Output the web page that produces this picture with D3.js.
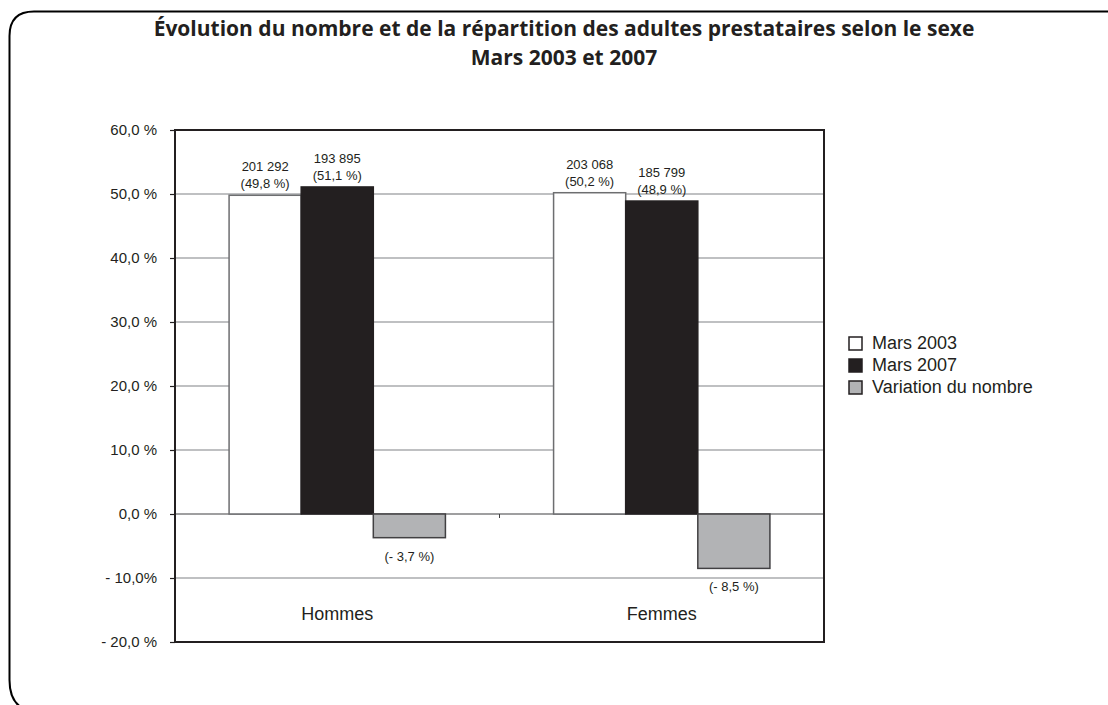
<!DOCTYPE html>
<html>
<head>
<meta charset="utf-8">
<script src="https://cdn.jsdelivr.net/npm/d3@7/dist/d3.min.js"></script>
<style>
  body { margin: 0; background: #fff; }
  svg { display: block; }
  text { fill: #231f20; }
</style>
</head>
<body>
<svg id="chart" width="1108" height="705"></svg>
<script>
// data
var categories = ["Hommes", "Femmes"];
var seriesNames = ["Mars 2003", "Mars 2007", "Variation du nombre"];
var mars2003 = [49.8, 50.2];
var mars2007 = [51.1, 48.9];
var variation = [-3.7, -8.5];
var counts2003 = ["201 292", "203 068"];
var counts2007 = ["193 895", "185 799"];
var yTicks = [60, 50, 40, 30, 20, 10, 0, -10, -20];
var yTickLabels = ["60,0 %", "50,0 %", "40,0 %", "30,0 %", "20,0 %", "10,0 %", "0,0 %", "- 10,0%", "- 20,0 %"];
var titleLines = ["Évolution du nombre et de la répartition des adultes prestataires selon le sexe", "Mars 2003 et 2007"];

var svg = d3.select("#chart"),
    margin = {top: 130, right: 284, bottom: 63, left: 175},
    width = +svg.attr("width") - margin.left - margin.right,
    height = +svg.attr("height") - margin.top - margin.bottom;

// frame with rounded left corners
svg.append("path")
    .attr("d", "M1120,11.5 L34,11.5 Q9.5,11.5 9.5,36 L9.5,680 Q9.5,712 40,712 L1120,712")
    .attr("fill", "none")
    .attr("stroke", "#000")
    .attr("stroke-width", 2);

// title
svg.selectAll(".title")
  .data(titleLines)
  .enter().append("text")
    .attr("class", "title")
    .attr("x", 564)
    .attr("y", function(d, i) { return 36 + i * 29; })
    .attr("text-anchor", "middle")
    .style("font", "bold 21px 'Open Sans', sans-serif")
    .text(function(d) { return d; });

var g = svg.append("g").attr("transform", "translate(" + margin.left + "," + margin.top + ")");

var rows = categories.map(function(c, i) {
  return {cat: c, values: [
    {key: seriesNames[0], v: mars2003[i], count: counts2003[i]},
    {key: seriesNames[1], v: mars2007[i], count: counts2007[i]},
    {key: seriesNames[2], v: variation[i], count: null}
  ]};
});

var x0 = d3.scaleBand().domain(categories).range([0, width]).padding(0);
var x1 = d3.scaleBand().domain(seriesNames).range([0, x0.bandwidth()]).paddingInner(0).paddingOuter(0.75);
var y = d3.scaleLinear().domain([-20, 60]).range([height, 0]);
var fill = d3.scaleOrdinal().domain(seriesNames).range(["#ffffff", "#231f20", "#b2b3b5"]);
var stroke = d3.scaleOrdinal().domain(seriesNames).range(["#6d6e70", "#231f20", "#414042"]);

function pct(v) {
  var s = d3.format(".1f")(Math.abs(v)).replace(".", ",");
  return v < 0 ? "(- " + s + " %)" : "(" + s + " %)";
}

// gridlines
g.selectAll(".grid")
  .data(yTicks.filter(function(d) { return d > -20 && d < 60; }))
  .enter().append("line")
    .attr("class", "grid")
    .attr("x1", 0).attr("x2", width)
    .attr("y1", function(d) { return y(d); })
    .attr("y2", function(d) { return y(d); })
    .attr("stroke", function(d) { return d === 0 ? "#414042" : "#808285"; })
    .attr("stroke-width", 1.2);

// small tick between the groups on the zero line
g.append("line")
    .attr("x1", x0(categories[1])).attr("x2", x0(categories[1]))
    .attr("y1", y(0)).attr("y2", y(0) + 4)
    .attr("stroke", "#414042");

// bars
var group = g.selectAll(".group")
  .data(rows)
  .enter().append("g")
    .attr("class", "group")
    .attr("transform", function(d) { return "translate(" + x0(d.cat) + ",0)"; });

group.selectAll("rect")
  .data(function(d) { return d.values; })
  .enter().append("rect")
    .attr("x", function(d) { return x1(d.key); })
    .attr("y", function(d) { return y(Math.max(0, d.v)); })
    .attr("width", x1.bandwidth())
    .attr("height", function(d) { return Math.abs(y(d.v) - y(0)); })
    .attr("fill", function(d) { return fill(d.key); })
    .attr("stroke", function(d) { return stroke(d.key); })
    .attr("stroke-width", 1.5);

// value labels
group.selectAll(".lab")
  .data(function(d) { return d.values; })
  .enter().append("text")
    .attr("class", "lab")
    .attr("text-anchor", "middle")
    .attr("x", function(d) { return x1(d.key) + x1.bandwidth() / 2; })
    .attr("y", function(d) { return d.v >= 0 ? y(d.v) - 7 : y(d.v) + 23; })
    .style("font", "13px 'Liberation Sans', Arial, sans-serif")
    .text(function(d) { return pct(d.v); });

group.selectAll(".cnt")
  .data(function(d) { return d.values.filter(function(e) { return e.count; }); })
  .enter().append("text")
    .attr("class", "cnt")
    .attr("text-anchor", "middle")
    .attr("x", function(d) { return x1(d.key) + x1.bandwidth() / 2; })
    .attr("y", function(d) { return y(d.v) - 24; })
    .style("font", "13px 'Liberation Sans', Arial, sans-serif")
    .text(function(d) { return d.count; });

// category labels
g.selectAll(".cat")
  .data(categories)
  .enter().append("text")
    .attr("class", "cat")
    .attr("text-anchor", "middle")
    .attr("x", function(d) { return x0(d) + x0.bandwidth() / 2; })
    .attr("y", y(-15) + 10)
    .style("font", "18px 'Liberation Sans', Arial, sans-serif")
    .text(function(d) { return d; });

// y axis
var yAxis = g.append("g")
    .attr("class", "axis axis--y")
    .call(d3.axisLeft(y).tickValues(yTicks).tickSize(5).tickPadding(13)
      .tickFormat(function(d, i) { return yTickLabels[i]; }));
yAxis.select(".domain").remove();
yAxis.selectAll("line").attr("stroke", "#231f20").attr("stroke-width", 1.2);
yAxis.selectAll("text")
    .style("font", "15px 'Liberation Sans', Arial, sans-serif")
    .attr("fill", "#231f20");

// plot border
g.append("rect")
    .attr("x", 0).attr("y", 0)
    .attr("width", width).attr("height", height)
    .attr("fill", "none")
    .attr("stroke", "#231f20")
    .attr("stroke-width", 2);

// legend
var legend = svg.selectAll(".legend")
  .data(seriesNames)
  .enter().append("g")
    .attr("class", "legend")
    .attr("transform", function(d, i) { return "translate(849," + (337 + i * 22) + ")"; });
legend.append("rect")
    .attr("width", 13).attr("height", 13)
    .attr("fill", fill)
    .attr("stroke", "#231f20")
    .attr("stroke-width", 1.5);
legend.append("text")
    .attr("x", 23).attr("y", 12)
    .style("font", "18px 'Liberation Sans', Arial, sans-serif")
    .text(function(d) { return d; });
</script>
</body>
</html>
